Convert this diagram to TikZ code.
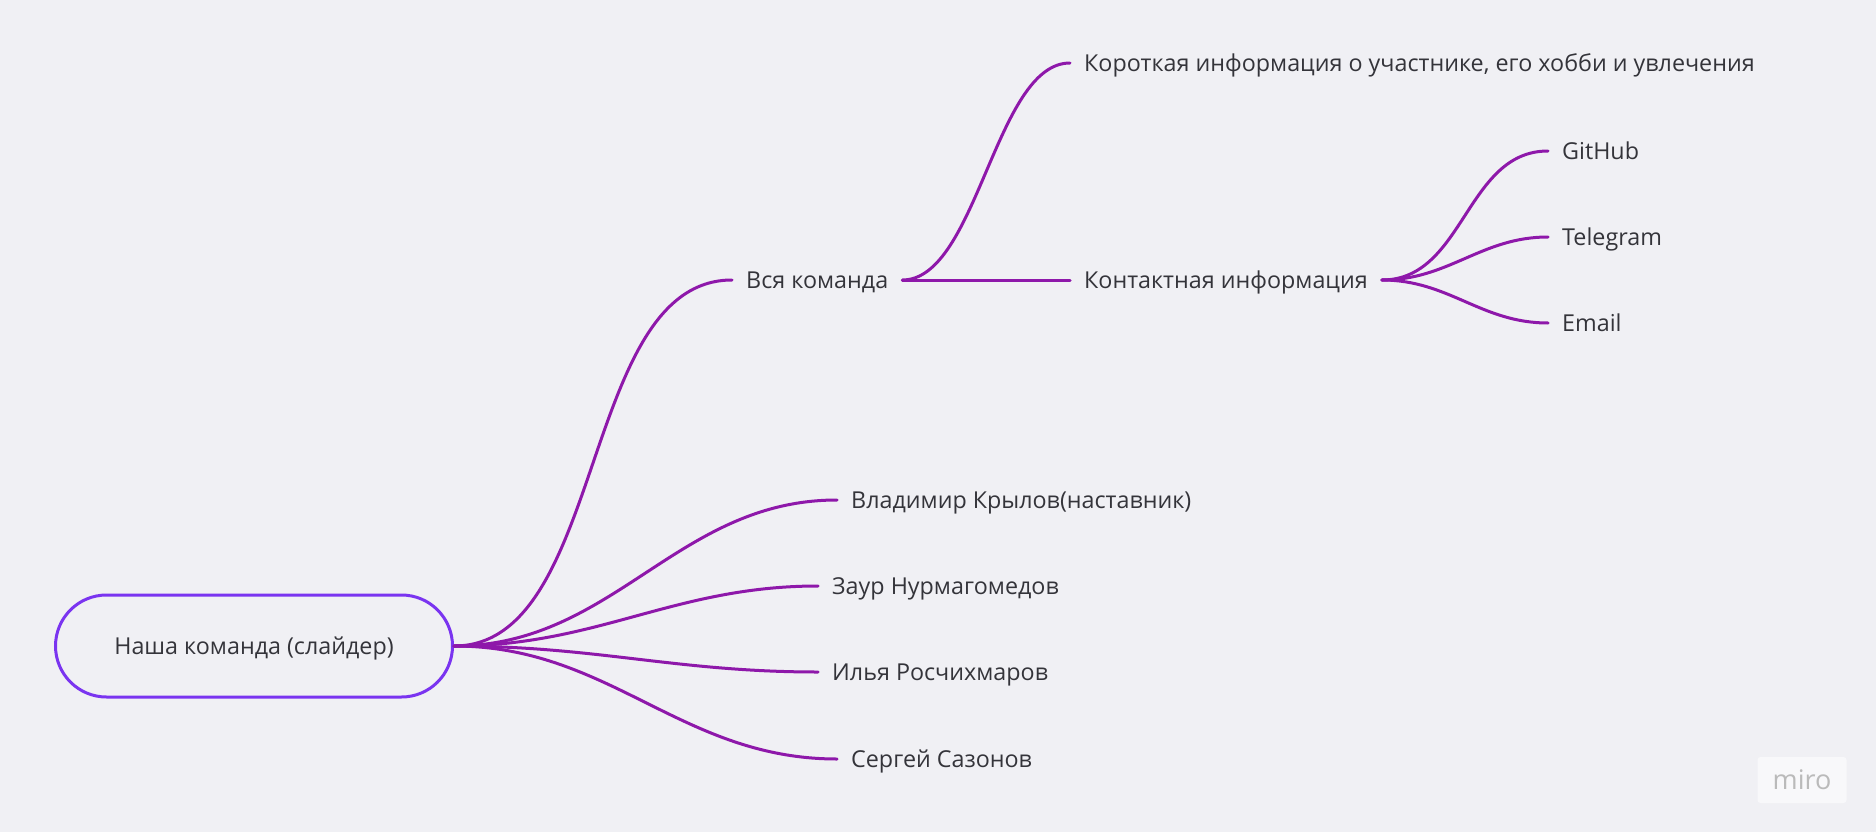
\documentclass[tikz,border=0pt]{standalone}
\usepackage{fontspec}
\setmainfont{Open Sans}
\usetikzlibrary{positioning}
\definecolor{bg}{RGB}{240,240,244}
\definecolor{ink}{RGB}{52,52,58}
\definecolor{rootline}{RGB}{122,52,240}
\definecolor{branchline}{RGB}{142,24,170}
\tikzstyle{root} = [rectangle, rounded corners=51pt, minimum width=397pt, minimum height=102pt, draw=rootline, line width=3pt, text=ink, text height=16.6pt, text depth=0pt, font=\fontsize{23.3}{27}\selectfont]
\tikzstyle{topic} = [anchor=west, inner xsep=14pt, inner ysep=0pt, text=ink, text height=16.6pt, text depth=0pt, font=\fontsize{23.3}{27}\selectfont]
\tikzstyle{branch} = [draw=branchline, line width=3pt, line cap=round]
\tikzstyle{logo} = [rectangle, rounded corners=3pt, fill=white!50!bg, minimum width=89pt, minimum height=46pt, text=black!27, font=\fontsize{27}{30}\selectfont]

\begin{document}
\begin{tikzpicture}[x=1pt, y=-1pt]
\path[fill=bg, use as bounding box] (0,0) rectangle (1876,832);
\node (root) [root] at (254,646) {Наша команда (слайдер)};
\node (team) [topic] at (732,280) {Вся команда};
\node (about) [topic] at (1070,63) {Короткая информация о участнике, его хобби и увлечения};
\node (contacts) [topic] at (1070,280) {Контактная информация};
\node (github) [topic] at (1548,151) {GitHub};
\node (telegram) [topic] at (1548,237) {Telegram};
\node (email) [topic] at (1548,323) {Email};
\node (mentor) [topic] at (837,500) {Владимир Крылов(наставник)};
\node (zaur) [topic] at (818,586) {Заур Нурмагомедов};
\node (ilya) [topic] at (818,672) {Илья Росчихмаров};
\node (sergey) [topic] at (837,759) {Сергей Сазонов};
\node (miro) [logo] at (1802,780) {miro};
% branches from the root
\draw [branch] (root.east) to[out=0, in=180, looseness=0.85] (team.west);
\draw [branch] (root.east) to[out=0, in=180] (mentor.west);
\draw [branch] (root.east) to[out=0, in=180] (zaur.west);
\draw [branch] (root.east) to[out=0, in=180] (ilya.west);
\draw [branch] (root.east) to[out=0, in=180] (sergey.west);
% team subtree
\draw [branch] (team.east) to[out=0, in=180, looseness=0.7] (about.west);
\draw [branch] (team.east) -- (contacts.west);
\draw [branch] (contacts.east) to[out=0, in=180] (github.west);
\draw [branch] (contacts.east) to[out=0, in=180] (telegram.west);
\draw [branch] (contacts.east) to[out=0, in=180] (email.west);
\end{tikzpicture}
\end{document}
